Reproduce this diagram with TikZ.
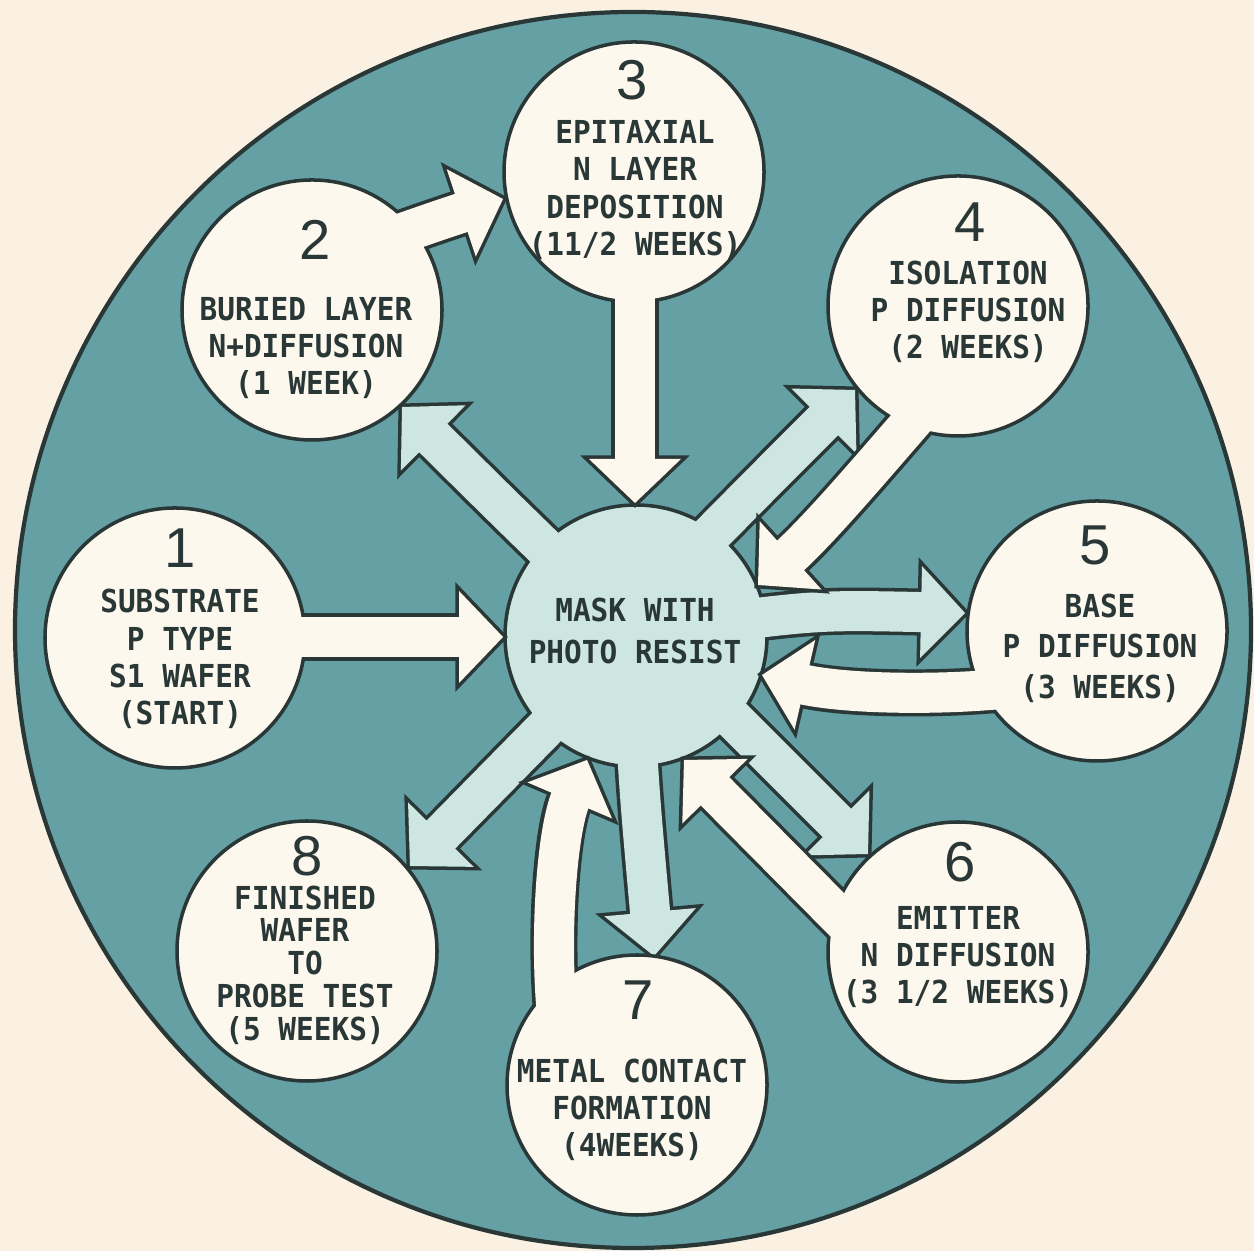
\documentclass[tikz,border=0pt]{standalone}
\usepackage{fontspec}
\newfontfamily\leroy[FakeStretch=0.93]{DejaVu Sans Mono}
\newfontfamily\leroydigits{Liberation Sans}
\usepackage{tikz}
\usetikzlibrary{calc}
\definecolor{paper}{HTML}{FAF1E2}
\definecolor{cream}{HTML}{FDF8EE}
\definecolor{wafer}{HTML}{65A0A4}
\definecolor{mist}{HTML}{CDE6E2}
\definecolor{ink}{HTML}{2A3737}
\tikzset{
  every picture/.style={line join=round},
  stage/.style={circle, draw=ink, line width=1pt, fill=cream, minimum size=2.6cm, inner sep=0pt},
  hub/.style={stage, fill=mist, minimum size=2.62cm},
  rim/.style={draw=ink, line width=13.4pt},
  band/.style={line width=11.4pt, shorten >=-1pt},
  tipline/.style={fill=ink, draw=ink, line width=2pt, line join=miter},
  stagetext/.style={font=\leroy\bfseries\fontsize{9}{10.6}\selectfont, align=center, text=ink, inner sep=0pt},
  stagenum/.style={font=\leroydigits\fontsize{16}{16}\selectfont, text=ink, inner sep=0pt},
}

\begin{document}
\begin{tikzpicture}
\useasboundingbox (0,0) rectangle (12.54,12.51);
\fill[paper] (0,0) rectangle (12.54,12.51);
% the wafer
\filldraw[fill=wafer, draw=ink, line width=1.2pt] (6.33,6.21) circle (6.18);

% arrows out of the mask
\coordinate (a2-t) at (6.36,6.15); \coordinate (a2-c1) at (5.17,7.30); \coordinate (a2-c2) at (5.17,7.30); \coordinate (a2-p) at (4.02,8.44);
\coordinate (a4-t) at (6.80,6.85); \coordinate (a4-c1) at (7.67,7.73); \coordinate (a4-c2) at (7.67,7.73); \coordinate (a4-p) at (8.55,8.61);
\coordinate (a5-t) at (7.00,6.26); \coordinate (a5-c1) at (8.20,6.41); \coordinate (a5-c2) at (8.20,6.41); \coordinate (a5-p) at (9.65,6.38);
\coordinate (a6-t) at (6.50,6.15); \coordinate (a6-c1) at (7.59,5.06); \coordinate (a6-c2) at (7.59,5.06); \coordinate (a6-p) at (8.68,3.97);
\coordinate (a7-t) at (6.34,5.51); \coordinate (a7-c1) at (6.40,4.51); \coordinate (a7-c2) at (6.40,4.51); \coordinate (a7-p) at (6.54,2.95);
\coordinate (a8-t) at (6.40,6.19); \coordinate (a8-c1) at (5.25,5.02); \coordinate (a8-c2) at (5.25,5.02); \coordinate (a8-p) at (4.10,3.85);
% arrows into the mask (and 2 to 3)
\coordinate (b1-t) at (1.75,6.14); \coordinate (b1-c1) at (3.39,6.14); \coordinate (b1-c2) at (3.39,6.14); \coordinate (b1-p) at (5.03,6.14);
\coordinate (b2-t) at (3.60,10.03); \coordinate (b2-c1) at (4.31,10.28); \coordinate (b2-c2) at (4.31,10.28); \coordinate (b2-p) at (5.03,10.52);
\coordinate (b3-t) at (6.35,10.79); \coordinate (b3-c1) at (6.35,9.13); \coordinate (b3-c2) at (6.35,9.13); \coordinate (b3-p) at (6.35,7.48);
\coordinate (b4-t) at (9.58,8.81); \coordinate (b4-c1) at (9.17,8.38); \coordinate (b4-c2) at (8.33,7.34); \coordinate (b4-p) at (7.58,6.66);
\coordinate (b5-t) at (10.10,5.63); \coordinate (b5-c1) at (9.50,5.56); \coordinate (b5-c2) at (8.49,5.56); \coordinate (b5-p) at (7.62,5.76);
\coordinate (b6-t) at (8.80,2.93); \coordinate (b6-c1) at (7.82,3.92); \coordinate (b6-c2) at (7.82,3.92); \coordinate (b6-p) at (6.84,4.91);
\coordinate (b7-t) at (5.60,2.11); \coordinate (b7-c1) at (5.48,2.91); \coordinate (b7-c2) at (5.55,4.16); \coordinate (b7-p) at (5.87,4.91);
\foreach \a in {a2,a4,a5,a6,a7,a8,b1,b2,b3,b4,b5,b6,b7}
  \coordinate (\a-b) at ($(\a-p)!0.44cm!(\a-c2)$);

% out arrows: outline, mask, fill
\foreach \a in {a2,a4,a5,a6,a7,a8} {
  \draw[rim] (\a-t) .. controls (\a-c1) and (\a-c2) .. (\a-b);
  \filldraw[tipline] (\a-p) -- ($(\a-b)!0.46cm!90:(\a-p)$) -- ($(\a-b)!0.46cm!-90:(\a-p)$) -- cycle;
}
\node[hub] (mask) at (6.36,6.15) {};
\foreach \a in {a2,a4,a5,a6,a7,a8} {
  \draw[band, mist] (\a-t) .. controls (\a-c1) and (\a-c2) .. (\a-b);
  \fill[mist] (\a-p) -- ($(\a-b)!0.46cm!90:(\a-p)$) -- ($(\a-b)!0.46cm!-90:(\a-p)$) -- cycle;
}

% in arrows: outline, stages, fill
\foreach \a in {b1,b2,b3,b4,b5,b6,b7} {
  \draw[rim] (\a-t) .. controls (\a-c1) and (\a-c2) .. (\a-b);
  \filldraw[tipline] (\a-p) -- ($(\a-b)!0.46cm!90:(\a-p)$) -- ($(\a-b)!0.46cm!-90:(\a-p)$) -- cycle;
}
\node[stage] (s1) at (1.75,6.13) {};
\node[stage] (s2) at (3.12,9.41) {};
\node[stage] (s3) at (6.34,10.79) {};
\node[stage] (s4) at (9.58,9.45) {};
\node[stage] (s5) at (10.97,6.20) {};
\node[stage] (s6) at (9.58,2.99) {};
\node[stage] (s7) at (6.37,1.66) {};
\node[stage] (s8) at (3.07,3.00) {};
\foreach \a in {b1,b2,b3,b4,b5,b6,b7} {
  \draw[band, cream] (\a-t) .. controls (\a-c1) and (\a-c2) .. (\a-b);
  \fill[cream] (\a-p) -- ($(\a-b)!0.46cm!90:(\a-p)$) -- ($(\a-b)!0.46cm!-90:(\a-p)$) -- cycle;
}

% labels
\node[stagenum] (n1) at (1.80,7.03) {1};
\node[stagetext] (t1) at (1.80,5.92) {SUBSTRATE\\P TYPE\\S1 WAFER\\(START)};
\node[stagenum] (n2) at (3.15,10.11) {2};
\node[stagetext] (t2) at (3.06,9.03) {BURIED LAYER\\N+DIFFUSION\\(1 WEEK)};
\node[stagenum] (n3) at (6.32,11.71) {3};
\node[stagetext] (t3) at (6.35,10.61) {EPITAXIAL\\N LAYER\\DEPOSITION\\(11/2 WEEKS)};
\node[stagenum] (n4) at (9.70,10.29) {4};
\node[stagetext] (t4) at (9.68,9.39) {ISOLATION\\P DIFFUSION\\(2 WEEKS)};
\node[stagenum] (n5) at (10.95,7.06) {5};
\node[stagetext, font=\leroy\bfseries\fontsize{9}{11.5}\selectfont] (t5) at (11.00,6.03) {BASE\\P DIFFUSION\\(3 WEEKS)};
\node[stagenum] (n6) at (9.60,3.89) {6};
\node[stagetext] (t6) at (9.58,2.94) {EMITTER\\N DIFFUSION\\(3 1/2 WEEKS)};
\node[stagenum] (n7) at (6.38,2.51) {7};
\node[stagetext] (t7) at (6.32,1.41) {METAL CONTACT\\FORMATION\\(4WEEKS)};
\node[stagenum] (n8) at (3.07,3.95) {8};
\node[stagetext, font=\leroy\bfseries\fontsize{9}{9.3}\selectfont] (t8) at (3.05,2.86) {FINISHED\\WAFER\\TO\\PROBE TEST\\(5 WEEKS)};
\node[stagetext, font=\leroy\bfseries\fontsize{9}{12}\selectfont] (hubtext) at (6.35,6.20) {MASK WITH\\PHOTO RESIST};
\end{tikzpicture}
\end{document}
